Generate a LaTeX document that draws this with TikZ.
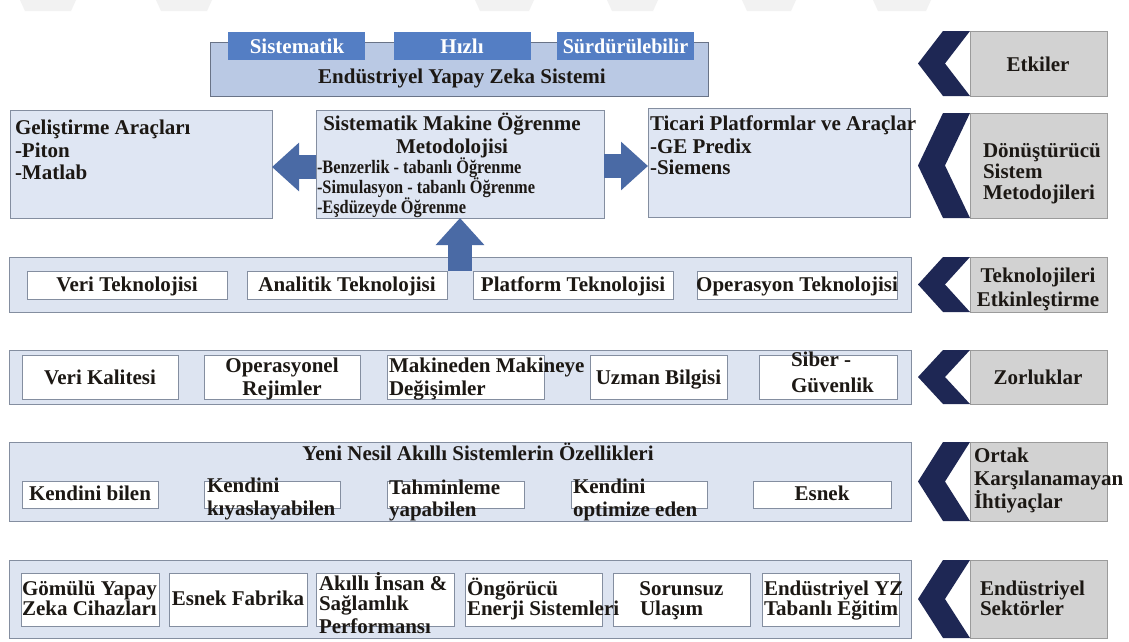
\documentclass[tikz,border=0pt]{standalone}
\usepackage{fontspec}
\setmainfont{Liberation Serif}
\usetikzlibrary{arrows.meta,calc}

\definecolor{ink}{RGB}{28,24,20}
\definecolor{topfill}{RGB}{186,201,228}
\definecolor{topedge}{RGB}{105,115,135}
\definecolor{tabblue}{RGB}{84,126,196}
\definecolor{panelfill}{RGB}{223,230,243}
\definecolor{rowfill}{RGB}{221,228,241}
\definecolor{edge}{RGB}{132,142,160}
\definecolor{grayfill}{RGB}{210,210,210}
\definecolor{grayedge}{RGB}{155,155,155}
\definecolor{navy}{RGB}{30,39,84}
\definecolor{arrowblue}{RGB}{74,106,165}

% box node from its corner coordinates: name, style, x1, y1, x2, y2
\newcommand\bx[6]{\node[#2, minimum width={#5-#3}, minimum height={#6-#4}] (#1) at ({(#3+#5)/2},{(#4+#6)/2}) {};}
% left-pointing chevron against the west side of a label box
\newcommand\chevron[1]{%
  \fill[navy] ($(#1.north west)+(-27,0)$) -- (#1.north west) -- ($(#1.west)+(-25,0)$)
    -- (#1.south west) -- ($(#1.south west)+(-27,0)$) -- ($(#1.west)+(-52,0)$) -- cycle;}
\newcommand\nar[1]{\scalebox{0.86}[1]{#1}}

\begin{document}
\begin{tikzpicture}[x=1pt,y=-1pt,
  tx/.style={inner sep=0pt, outer sep=0pt, text=ink, font=\fontsize{21}{21}\selectfont\bfseries},
  tabtx/.style={tx, text=white, font=\fontsize{21}{21}\selectfont\bfseries},
  listtx/.style={tx, font=\fontsize{19}{19}\selectfont\bfseries},
  topbox/.style={draw=topedge, fill=topfill, line width=0.9pt, inner sep=0pt, outer sep=0pt},
  tabbox/.style={fill=tabblue, inner sep=0pt, outer sep=0pt},
  panel/.style={draw=edge, fill=panelfill, line width=0.9pt, inner sep=0pt, outer sep=0pt},
  rowbox/.style={draw=edge, fill=rowfill, line width=0.9pt, inner sep=0pt, outer sep=0pt},
  cell/.style={draw=edge, fill=white, line width=0.8pt, inner sep=0pt, outer sep=0pt},
  labelbox/.style={draw=grayedge, fill=grayfill, line width=0.9pt, inner sep=0pt, outer sep=0pt},
  blockarrow/.style={draw=arrowblue, line width=24pt, -{Triangle[width=47pt,length=27pt]}}
]
\useasboundingbox (0,0) rectangle (1129,641);
\fill[white] (0,0) rectangle (1129,641);

% faint strips along the top edge
\foreach \a/\b in {20/76,156/212,475/534,607/658,742/796,873/931}
  \fill[black!5] (\a,0) -- (\b,0) -- (\b-5,11) -- (\a+5,11) -- cycle;

% ---------- Etkiler ----------
\bx{sys}{topbox}{210}{42}{708}{96}
\bx{tsis}{tabbox}{228}{32}{365}{60}
\bx{thiz}{tabbox}{394}{32}{531}{60}
\bx{tsur}{tabbox}{557}{32}{694}{60}
\node[tabtx, anchor=base] (tsis-t) at (297,53) {Sistematik};
\node[tabtx, anchor=base] (thiz-t) at (462,53) {Hızlı};
\node[tabtx, anchor=base] (tsur-t) at (tsur |- 0,53) {\scalebox{0.96}[1]{Sürdürülebilir}};
\node[tx, anchor=base] (sys-t) at (462,83) {Endüstriyel Yapay Zeka Sistemi};
\bx{l1}{labelbox}{970}{31}{1107}{96}
\chevron{l1}
\node[tx, anchor=base] (l1-t) at (1038,71) {Etkiler};

% ---------- Dönüştürücü sistem metodolojileri ----------
\bx{gel}{panel}{10}{110}{272}{218}
\node[tx, anchor=base west] (gel1) at (15,134) {Geliştirme Araçları};
\node[tx, anchor=base west] (gel2) at (15,157) {-Piton};
\node[tx, anchor=base west] (gel3) at (15,179) {-Matlab};

\bx{mid}{panel}{316}{110}{604}{218}
\node[tx, anchor=base] (mid1) at (452,130) {Sistematik Makine Öğrenme};
\node[tx, anchor=base] (mid2) at (452,153) {Metodolojisi};
\node[listtx, anchor=base west] (mid3) at (317,173) {\nar{-Benzerlik - tabanlı Öğrenme}};
\node[listtx, anchor=base west] (mid4) at (317,193) {\nar{-Simulasyon - tabanlı Öğrenme}};
\node[listtx, anchor=base west] (mid5) at (317,213) {\nar{-Eşdüzeyde Öğrenme}};

\bx{tic}{panel}{648}{108}{910}{217}
\node[tx, anchor=base west] (tic1) at (650,130) {Ticari Platformlar ve Araçlar};
\node[tx, anchor=base west] (tic2) at (650,153) {-GE Predix};
\node[tx, anchor=base west] (tic3) at (650,174) {-Siemens};

\bx{l2}{labelbox}{970}{113}{1107}{218}
\chevron{l2}
\node[tx, anchor=base west] (l2a) at (983,157) {Dönüştürücü};
\node[tx, anchor=base west] (l2b) at (983,178) {Sistem};
\node[tx, anchor=base west] (l2c) at (983,199) {Metodojileri};

% ---------- Teknolojileri etkinleştirme ----------
\bx{tek}{rowbox}{9}{257}{911}{312}
\bx{vt}{cell}{27}{271}{227}{299}
\bx{an}{cell}{247}{271}{447}{299}
\bx{pl}{cell}{473}{271}{673}{299}
\bx{op}{cell}{697}{271}{897}{299}
\node[tx, anchor=base] (vt-t) at (vt |- 0,291) {Veri Teknolojisi};
\node[tx, anchor=base] (an-t) at (an |- 0,291) {Analitik Teknolojisi};
\node[tx, anchor=base] (pl-t) at (pl |- 0,291) {Platform Teknolojisi};
\node[tx, anchor=base] (op-t) at (op |- 0,291) {Operasyon Teknolojisi};
\bx{l3}{labelbox}{970}{257}{1107}{312}
\chevron{l3}
\node[tx, anchor=base] (l3a) at (1038,282) {Teknolojileri};
\node[tx, anchor=base] (l3b) at (1038,306) {Etkinleştirme};

% block arrows out of the methodology box
\coordinate (upbase) at ($(an.north east)!0.5!(pl.north west)$);
\draw[blockarrow] (upbase) -- (mid.south -| upbase);
\draw[blockarrow] ($(mid.west)+(0,3)$) -- ($(gel.east)+(0,3)$);
\draw[blockarrow] ($(mid.east)+(0,2)$) -- ($(tic.west)+(0,3.5)$);

% ---------- Zorluklar ----------
\bx{zor}{rowbox}{9}{350}{911}{404}
\bx{vk}{cell}{22}{355}{178}{399}
\bx{or}{cell}{204}{355}{360}{399}
\bx{md}{cell}{387}{355}{544}{399}
\bx{uz}{cell}{590}{355}{727}{399}
\bx{sb}{cell}{759}{355}{897}{399}
\node[tx, anchor=base] (vk-t) at (vk |- 0,384) {Veri Kalitesi};
\node[tx, anchor=base] (or-a) at (or |- 0,372) {Operasyonel};
\node[tx, anchor=base] (or-b) at (or |- 0,395) {Rejimler};
\node[tx, anchor=base west] (md-a) at (389,372) {Makineden Makineye};
\node[tx, anchor=base west] (md-b) at (389,395) {Değişimler};
\node[tx, anchor=base] (uz-t) at (uz |- 0,384) {Uzman Bilgisi};
\node[tx, anchor=base west] (sb-a) at (791,366) {Siber -};
\node[tx, anchor=base west] (sb-b) at (791,392) {Güvenlik};
\bx{l4}{labelbox}{970}{350}{1107}{404}
\chevron{l4}
\node[tx, anchor=base] (l4-t) at (1038,384) {Zorluklar};

% ---------- Ortak karşılanamayan ihtiyaçlar ----------
\bx{yn}{rowbox}{9}{442}{911}{521}
\node[tx, anchor=base] (yn-t) at (478,460) {Yeni Nesil Akıllı Sistemlerin Özellikleri};
\bx{kb}{cell}{22}{481}{158}{508}
\bx{kk}{cell}{204}{481}{340}{508}
\bx{th}{cell}{387}{481}{524}{508}
\bx{ko}{cell}{571}{481}{707}{508}
\bx{es}{cell}{753}{481}{891}{508}
\node[tx, anchor=base] (kb-t) at (kb |- 0,500) {Kendini bilen};
\node[tx, anchor=base west] (kk-a) at (207,492) {Kendini};
\node[tx, anchor=base west] (kk-b) at (207,515) {kıyaslayabilen};
\node[tx, anchor=base west] (th-a) at (389,494) {Tahminleme};
\node[tx, anchor=base west] (th-b) at (389,516) {yapabilen};
\node[tx, anchor=base west] (ko-a) at (573,493) {Kendini};
\node[tx, anchor=base west] (ko-b) at (573,516) {optimize eden};
\node[tx, anchor=base] (es-t) at (es |- 0,500) {Esnek};
\bx{l5}{labelbox}{970}{442}{1107}{521}
\chevron{l5}
\node[tx, anchor=base west] (l5a) at (974,462) {Ortak};
\node[tx, anchor=base west] (l5b) at (974,485) {Karşılanamayan};
\node[tx, anchor=base west] (l5c) at (974,508) {İhtiyaçlar};

% ---------- Endüstriyel sektörler ----------
\bx{sek}{rowbox}{9}{560}{911}{638}
\bx{gy}{cell}{21}{573}{159}{626}
\bx{ef}{cell}{169}{573}{307}{626}
\bx{ai}{cell}{316}{573}{454}{626}
\bx{on}{cell}{465}{573}{602}{626}
\bx{so}{cell}{613}{573}{750}{626}
\bx{ey}{cell}{762}{573}{899}{626}
\node[tx, anchor=base west] (gy-a) at (22,595) {Gömülü Yapay};
\node[tx, anchor=base west] (gy-b) at (22,615) {Zeka Cihazları};
\node[tx, anchor=base] (ef-t) at (ef |- 0,605) {Esnek Fabrika};
\node[tx, anchor=base west] (ai-a) at (319,590) {Akıllı İnsan \&};
\node[tx, anchor=base west] (ai-b) at (319,610) {Sağlamlık};
\node[tx, anchor=base west] (ai-c) at (319,633) {Performansı};
\node[tx, anchor=base west] (on-a) at (467,595) {Öngörücü};
\node[tx, anchor=base west] (on-b) at (467,615) {Enerji Sistemleri};
\node[tx, anchor=base] (so-a) at (so |- 0,595) {Sorunsuz};
\node[tx, anchor=base west] (so-b) at (640,615) {Ulaşım};
\node[tx, anchor=base west] (ey-a) at (764,595) {Endüstriyel YZ};
\node[tx, anchor=base west] (ey-b) at (764,615) {Tabanlı Eğitim};
\bx{l6}{labelbox}{970}{560}{1107}{638}
\chevron{l6}
\node[tx, anchor=base west] (l6a) at (980,595) {Endüstriyel};
\node[tx, anchor=base west] (l6b) at (980,615) {Sektörler};
\end{tikzpicture}
\end{document}
